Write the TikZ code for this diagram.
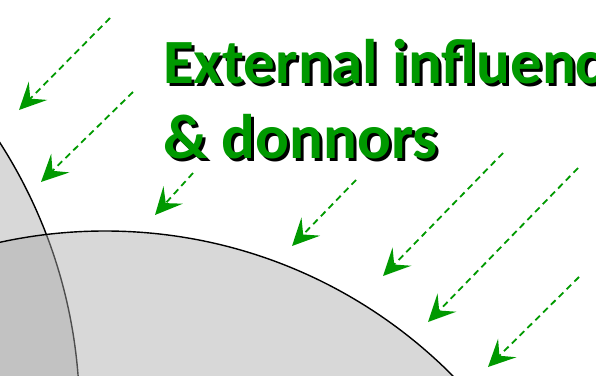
\documentclass[tikz,border=0pt]{standalone}
\usepackage{fontspec}
\setmainfont{Carlito}
\usetikzlibrary{arrows.meta}
\definecolor{grn}{RGB}{0,153,0}
\definecolor{lightfill}{RGB}{216,216,216}
\definecolor{midfill}{RGB}{170,170,170}
\begin{document}
\begin{tikzpicture}[x=1pt,y=-1pt,
  flow/.style={grn, line width=1.8pt, dash pattern=on 6.5pt off 4.5pt,
    -{Stealth[length=27pt,width=26pt,inset=11pt]}},
  titletext/.style={font=\fontsize{63}{75}\selectfont\bfseries, anchor=base west, inner sep=0pt},
  disc/.style={draw=black, line width=1.4pt}]
\useasboundingbox (0,0) rectangle (596,375);
\clip (0,0) rectangle (596,375);
% circles
\path[disc, fill=lightfill] (-425,415) circle [radius=504.6pt];
\path[disc, fill=midfill, fill opacity=0.46] (105,721) circle [radius=490pt];
% title with shadow
\node[titletext, text=black] (s1) at (166,86) {External influences};
\node[titletext, text=black] (s2) at (166,161) {\& donnors};
\node[titletext, text=grn] (t1) at (163,83) {External influences};
\node[titletext, text=grn] (t2) at (163,158) {\& donnors};
% arrows
\coordinate (a1s) at (110,18);  \coordinate (a1e) at (19,110);
\coordinate (a2s) at (133,92);  \coordinate (a2e) at (41,182);
\coordinate (a3s) at (193,173); \coordinate (a3e) at (155,215);
\coordinate (a4s) at (356,180); \coordinate (a4e) at (292,246);
\coordinate (a5s) at (503,153); \coordinate (a5e) at (383,276);
\coordinate (a6s) at (578,168); \coordinate (a6e) at (428,322);
\coordinate (a7s) at (579,277); \coordinate (a7e) at (488,367);
\foreach \i in {1,...,7} \draw[flow] (a\i s) -- (a\i e);
\end{tikzpicture}
\end{document}
